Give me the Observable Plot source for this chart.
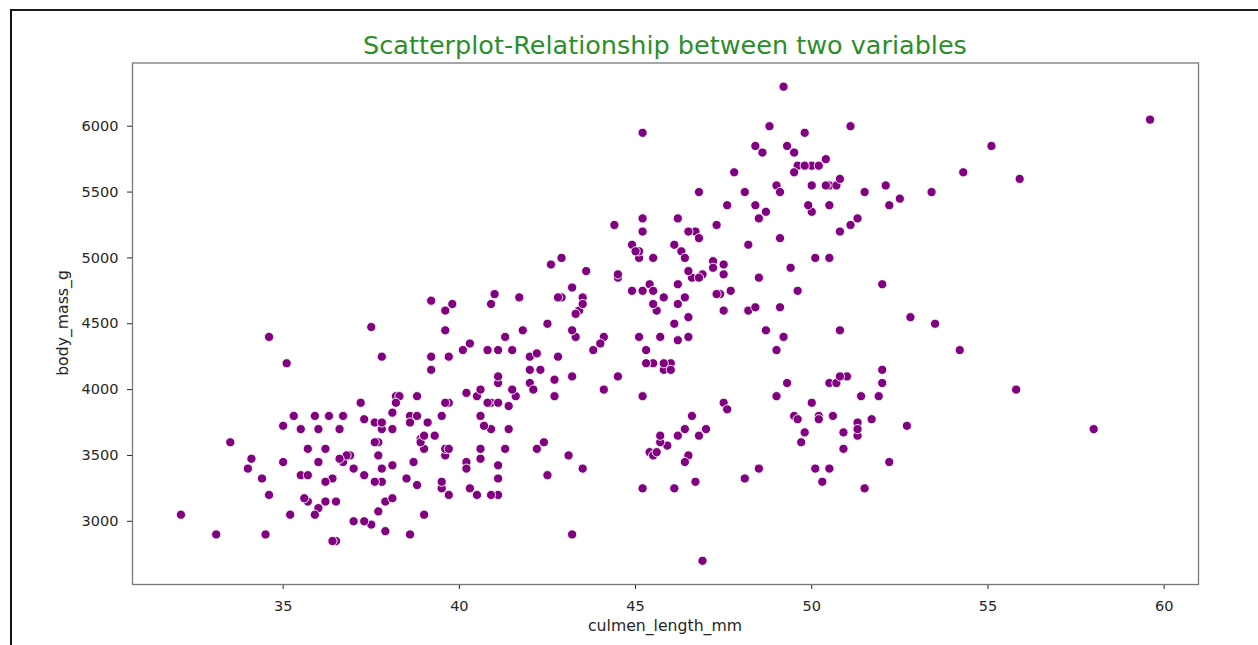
<!DOCTYPE html>
<html>
<head>
<meta charset="utf-8">
<script src="https://cdn.jsdelivr.net/npm/d3@7"></script>
<script src="https://cdn.jsdelivr.net/npm/@observablehq/plot@0.6"></script>
<style>
  html, body { margin: 0; padding: 0; background: #fff; }
  #wrap { position: relative; width: 1258px; height: 645px; overflow: hidden; font-family: "DejaVu Sans", sans-serif; background: #fff; }
  #wrap svg { position: absolute; left: 0; top: 0; }
  .bl { position: absolute; background: #111; }
  #title { position: absolute; left: 132px; width: 1066px; top: 33px; text-align: center; font-size: 25.5px; line-height: 25.5px; color: #2a8f2a; white-space: nowrap; }
  #xlabel { position: absolute; left: 132px; width: 1066px; top: 618px; text-align: center; font-size: 15.7px; line-height: 16px; color: #262626; white-space: nowrap; }
  #ylabel { position: absolute; left: 63px; top: 323px; width: 0; height: 0; }
  #ylabel span { position: absolute; left: 0; top: 0; transform: translate(-50%, -50%) rotate(-90deg); font-size: 15.7px; line-height: 16px; color: #262626; white-space: nowrap; display: block; }
</style>
</head>
<body>
<div id="wrap">
  <div class="bl" style="left:10px;top:9px;width:1248px;height:2px;background:#1a1a1a"></div>
  <div class="bl" style="left:10px;top:9px;width:2px;height:636px;"></div>
  <div id="title">Scatterplot-Relationship between two variables</div>
  <div id="xlabel">culmen_length_mm</div>
  <div id="ylabel"><span>body_mass_g</span></div>
</div>
<script>
// Palmer penguins: culmen length (mm) and body mass (g), in row order
const adelieCulmen = [
  39.1,39.5,40.3,36.7,39.3,38.9,39.2,34.1,42.0,37.8,
  37.8,41.1,38.6,34.6,36.6,38.7,42.5,34.4,46.0,37.8,
  37.7,35.9,38.2,38.8,35.3,40.6,40.5,37.9,40.5,39.5,
  37.2,39.5,40.9,36.4,39.2,38.8,42.2,37.6,39.8,36.5,
  40.8,36.0,44.1,37.0,39.6,41.1,37.5,36.0,42.3,39.6,
  40.1,35.0,42.0,34.5,41.4,39.0,40.6,36.5,37.6,35.7,
  41.3,37.6,41.1,36.4,41.6,35.5,41.1,35.9,41.8,33.5,
  39.7,39.6,45.8,35.5,42.8,40.9,37.2,36.2,42.1,34.6,
  42.9,36.7,35.1,37.3,41.3,36.3,36.9,38.3,38.9,35.7,
  41.1,34.0,39.6,36.2,40.8,38.1,40.3,33.1,43.2,35.0,
  41.0,37.7,37.8,37.9,39.7,38.6,38.2,38.1,43.2,38.1,
  45.6,39.7,42.2,39.6,42.7,38.6,37.3,35.7,41.1,36.2,
  37.7,40.2,41.4,35.2,40.6,38.8,41.5,39.0,44.1,38.5,
  43.1,36.8,37.5,38.1,41.1,35.6,40.2,37.0,39.7,40.2,
  40.6,32.1,40.7,37.3,39.0,39.2,36.6,36.0,37.8,36.0,
  41.5
];
const adelieMass = [
  3750,3800,3250,3450,3650,3625,4675,3475,4250,3300,
  3700,3200,3800,4400,3700,3450,4500,3325,4200,3400,
  3600,3800,3950,3800,3800,3550,3200,3150,3950,3250,
  3900,3300,3900,3325,4150,3950,3550,3300,4650,3150,
  3900,3100,4400,3000,4600,3425,2975,3450,4150,3500,
  4300,3450,4050,2900,3700,3550,3800,2850,3750,3150,
  4400,3600,4050,2850,3950,3350,4100,3050,4450,3600,
  3900,3550,4150,3700,4250,3700,3900,3550,4000,3200,
  4700,3800,4200,3350,3550,3800,3500,3950,3600,3550,
  4300,3400,4450,3300,4300,3700,4350,2900,4100,3725,
  4725,3075,4250,2925,3550,3750,3900,3175,4775,3825,
  4600,3200,4275,3900,4075,2900,3775,3350,3325,3150,
  3500,3450,3875,3050,4000,3275,4300,3050,4000,3325,
  3500,3500,4475,3425,3900,3175,3975,3400,4250,3400,
  3475,3050,3725,3000,3650,4250,3475,3450,3750,3700,
  4000
];
const chinstrapCulmen = [
  46.5,50.0,51.3,45.4,52.7,45.2,46.1,51.3,46.0,51.3,
  46.6,51.7,47.0,52.0,45.9,50.5,50.3,58.0,46.4,49.2,
  42.4,48.5,43.2,50.6,46.7,52.0,50.5,49.5,46.4,52.8,
  40.9,54.2,42.5,51.0,49.7,47.5,47.6,52.0,46.9,53.5,
  49.0,46.2,50.9,45.5,50.9,50.8,50.1,49.0,51.5,49.8,
  48.1,51.4,45.7,50.7,42.5,52.2,45.2,49.3,50.2,45.6,
  51.9,46.8,45.7,55.8,43.5,49.6,50.8,50.2
];
const chinstrapMass = [
  3500,3900,3650,3525,3725,3950,3250,3750,4150,3700,
  3800,3775,3700,4050,3575,4050,3300,3700,3450,4400,
  3600,3400,2900,3800,3300,4150,3400,3800,3700,4550,
  3200,4300,3350,4100,3600,3900,3850,4800,2700,4500,
  3950,3650,3550,3500,3675,4450,3400,4300,3250,3675,
  3325,3950,3600,4050,3350,3450,3250,4050,3800,3525,
  3950,3650,3650,4000,3400,3775,4100,3775
];
const gentooCulmen = [
  46.1,50.0,48.7,50.0,47.6,46.5,45.4,46.7,43.3,46.8,
  40.9,49.0,45.5,48.4,45.8,49.3,42.0,49.2,46.2,48.7,
  50.2,45.1,46.5,46.3,42.9,46.1,44.5,47.8,48.2,50.0,
  47.3,42.8,45.1,59.6,49.1,48.4,42.6,44.4,44.0,48.7,
  42.7,49.6,45.3,49.6,50.5,43.6,45.5,50.5,44.9,45.2,
  46.6,48.5,45.1,50.1,46.5,45.0,43.8,45.5,43.2,50.4,
  45.3,46.2,45.7,54.3,45.8,49.8,46.2,49.5,43.5,50.7,
  47.7,46.4,48.2,46.5,46.4,48.6,47.5,51.1,45.2,45.2,
  49.1,52.5,47.4,50.0,44.9,50.8,43.4,51.3,47.5,52.1,
  47.5,52.2,45.5,49.5,44.5,50.8,49.4,46.9,48.4,51.1,
  48.5,55.9,47.2,49.1,47.3,46.8,41.7,53.4,43.3,48.1,
  50.5,49.8,43.5,51.5,46.2,55.1,44.5,48.8,47.2,46.8,
  50.4,45.2,49.9
];
const gentooMass = [
  4500,5700,4450,5700,5400,4550,4800,5200,4400,5150,
  4650,5550,4650,5850,4200,5850,4150,6300,4800,5350,
  5700,5000,4400,5050,5000,5100,4100,5650,4600,5550,
  5250,4700,5050,6050,5150,5400,4950,5250,4350,5350,
  3950,5700,4300,4750,5550,4900,4200,5400,5100,5300,
  4850,5300,4400,5000,4900,5050,4300,5000,4450,5550,
  4200,5300,4400,5650,4700,5700,4650,5800,4700,5550,
  4750,5000,5100,5200,4700,5800,4600,6000,4750,5950,
  4625,5450,4725,5350,4750,5600,4600,5300,4875,5550,
  4950,5400,4750,5650,4850,5200,4925,4875,4625,5250,
  4850,5600,4975,5500,4725,5500,4700,5500,4575,5500,
  5000,5950,4650,5500,4375,5850,4875,6000,4925,4850,
  5750,5200,5400
];
const xTicks = [35, 40, 45, 50, 55, 60];
const yTicks = [3000, 3500, 4000, 4500, 5000, 5500, 6000];

const rows = [];
[[adelieCulmen, adelieMass], [chinstrapCulmen, chinstrapMass], [gentooCulmen, gentooMass]].forEach(([c, m]) => {
  c.forEach((v, i) => rows.push({culmen_length_mm: v, body_mass_g: m[i]}));
});

const xs = rows.map(d => d.culmen_length_mm), ys = rows.map(d => d.body_mass_g);
const [x0, x1] = d3.extent(xs), [y0, y1] = d3.extent(ys);
const mx = (x1 - x0) * 0.05, my = (y1 - y0) * 0.05;

const chart = Plot.plot({
  width: 1258,
  height: 645,
  marginLeft: 132,
  marginRight: 60,
  marginTop: 62.5,
  marginBottom: 61,
  style: { fontFamily: "DejaVu Sans, sans-serif", color: "#262626", background: "transparent", overflow: "visible" },
  x: { domain: [x0 - mx, x1 + mx] },
  y: { domain: [y0 - my, y1 + my] },
  marks: [
    Plot.axisX({ ticks: xTicks, tickSize: 5, tickPadding: 11, fontSize: 14.5, label: null, tickFormat: d3.format("d") }),
    Plot.axisY({ ticks: yTicks, tickSize: 5, tickPadding: 9, fontSize: 14.5, label: null, tickFormat: d3.format("d") }),
    Plot.dot(rows, { x: "culmen_length_mm", y: "body_mass_g", r: 4.6, fill: "#800080", stroke: "white", strokeWidth: 0.9 }),
    Plot.frame({ stroke: "#777", strokeWidth: 1.3 })
  ]
});
document.getElementById("wrap").insertBefore(chart, document.getElementById("title"));
</script>
</body>
</html>
